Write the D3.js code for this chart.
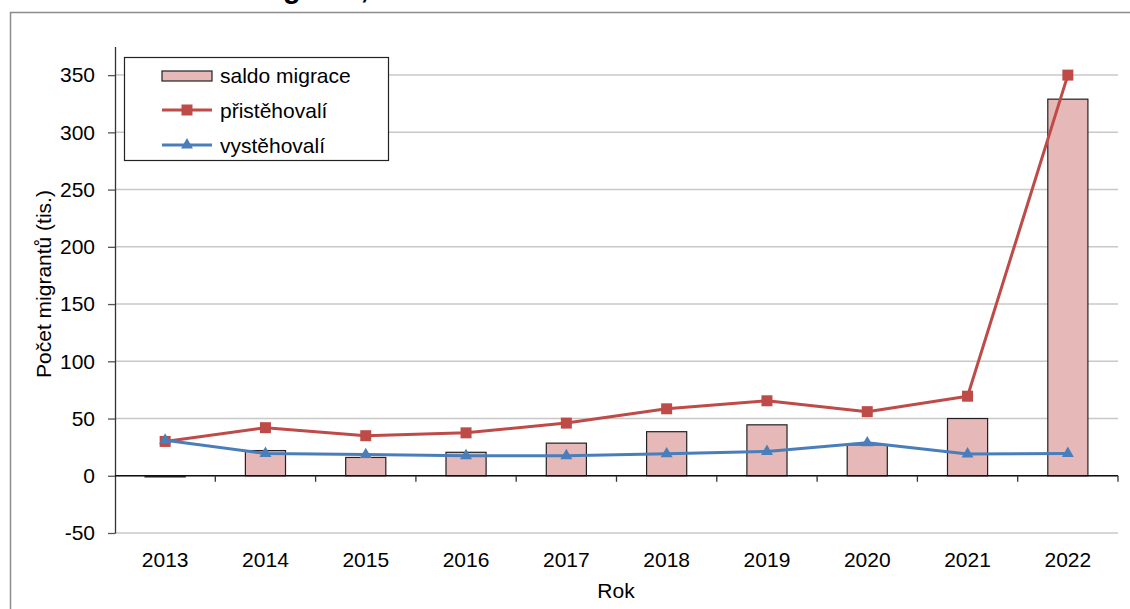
<!DOCTYPE html>
<html>
<head>
<meta charset="utf-8">
<script src="https://cdn.jsdelivr.net/npm/d3@7"></script>
<style>
  html, body { margin: 0; padding: 0; background: #fff; }
  svg { display: block; font-family: "Liberation Sans", Arial, sans-serif; }
</style>
</head>
<body>
<div id="chart"></div>
<script>
// data (tis.)
var years = ['2013', '2014', '2015', '2016', '2017', '2018', '2019', '2020', '2021', '2022'];
var saldo = [-1, 22, 16, 20.5, 28.5, 38.5, 44.5, 27, 50, 329];
var pristehovali = [30, 42, 35, 37.5, 46, 58.5, 65.5, 56, 69.5, 350];
var vystehovali = [31, 19.5, 18.5, 17.5, 17.5, 19.2, 21.2, 28.8, 19, 19.5];
var yTicks = [-50, 0, 50, 100, 150, 200, 250, 300, 350];

var width = 1130, height = 609;
var red = '#BE4B48', blue = '#4A7EBB', barFill = '#E6B9B8';

var svg = d3.select('#chart').append('svg')
    .attr('width', width)
    .attr('height', height);

// outer frame, cut off at right and bottom
svg.append('rect')
    .attr('x', 10.5).attr('y', 12.5)
    .attr('width', 1200).attr('height', 700)
    .attr('fill', 'none')
    .attr('stroke', '#8c8c8c')
    .attr('stroke-width', 1.5);

// title, mostly above the page (as in the original)
var title = svg.append('text')
    .attr('y', -2.5)
    .attr('font-size', 29)
    .attr('font-weight', 'bold')
    .text('Zahraniční migrace, 2013–2022');
var gPos = title.node().getStartPositionOfChar(title.text().indexOf('g')).x;
title.attr('x', 283 - gPos);

var x = d3.scaleBand().domain(years).range([115, 1118]);
var y = d3.scaleLinear().domain([-50, 375]).range([533, 46.5]);

// gridlines
svg.append('g').selectAll('line')
    .data(yTicks)
    .enter().append('line')
    .attr('x1', 115).attr('x2', 1118)
    .attr('y1', function(d) { return y(d); })
    .attr('y2', function(d) { return y(d); })
    .attr('stroke', '#c8c8c8')
    .attr('stroke-width', 1.5);

// bars
var bw = x.bandwidth() * 0.4;
svg.append('g').selectAll('rect')
    .data(saldo)
    .enter().append('rect')
    .attr('x', function(d, i) { return x(years[i]) + (x.bandwidth() - bw) / 2; })
    .attr('y', function(d) { return y(Math.max(0, d)); })
    .attr('width', bw)
    .attr('height', function(d) { return Math.abs(y(d) - y(0)); })
    .attr('fill', barFill)
    .attr('stroke', '#222')
    .attr('stroke-width', 1.2);

// y axis
var yAxis = svg.append('g')
    .attr('transform', 'translate(115,0)')
    .call(d3.axisLeft(y).tickValues(yTicks).tickFormat(function(d) { return String(d); })
        .tickSizeInner(7).tickSizeOuter(0).tickPadding(13));
yAxis.select('.domain').attr('stroke', '#333').attr('stroke-width', 1.3);
yAxis.selectAll('.tick line').attr('stroke', '#555').attr('stroke-width', 1.3);
yAxis.selectAll('text').attr('font-size', 21).attr('font-family', '"Liberation Sans", Arial, sans-serif').attr('fill', '#000');

// x axis line at zero with ticks on category boundaries
var bounds = years.map(function(d) { return x(d) + x.bandwidth(); });
var xAxis = svg.append('g');
xAxis.append('line')
    .attr('x1', 115).attr('x2', 1118)
    .attr('y1', y(0)).attr('y2', y(0))
    .attr('stroke', '#111').attr('stroke-width', 1.3);
xAxis.selectAll('.xt')
    .data(bounds)
    .enter().append('line')
    .attr('class', 'xt')
    .attr('x1', function(d) { return d; }).attr('x2', function(d) { return d; })
    .attr('y1', y(0)).attr('y2', y(0) + 6)
    .attr('stroke', '#333').attr('stroke-width', 1.3);

// category labels under the plot
var xLab = svg.append('g')
    .attr('transform', 'translate(0,533)')
    .call(d3.axisBottom(x).tickSize(0).tickPadding(19));
xLab.select('.domain').remove();
xLab.selectAll('text').attr('font-size', 21).attr('font-family', '"Liberation Sans", Arial, sans-serif').attr('fill', '#000');

// lines
var line = d3.line()
    .x(function(d, i) { return x(years[i]) + x.bandwidth() / 2; })
    .y(function(d) { return y(d); });

var square = d3.symbol().type(d3.symbolSquare).size(121);
var triangle = d3.symbol().type(d3.symbolTriangle).size(62);

function drawSeries(values, colour, sym) {
    svg.append('path')
        .datum(values)
        .attr('d', line)
        .attr('fill', 'none')
        .attr('stroke', colour)
        .attr('stroke-width', 3)
        .attr('stroke-linejoin', 'round');
    svg.append('g').selectAll('path')
        .data(values)
        .enter().append('path')
        .attr('d', sym)
        .attr('transform', function(d, i) {
            return 'translate(' + (x(years[i]) + x.bandwidth() / 2) + ',' + y(d) + ')';
        })
        .attr('fill', colour);
}
drawSeries(pristehovali, red, square);
drawSeries(vystehovali, blue, triangle);

// axis titles
svg.append('text')
    .attr('transform', 'translate(51,284) rotate(-90)')
    .attr('text-anchor', 'middle')
    .attr('font-size', 21)
    .text('Počet migrantů (tis.)');

svg.append('text')
    .attr('x', 616).attr('y', 598)
    .attr('text-anchor', 'middle')
    .attr('font-size', 21)
    .text('Rok');

// legend
var legend = svg.append('g');
legend.append('rect')
    .attr('x', 124.5).attr('y', 57.5)
    .attr('width', 264).attr('height', 103)
    .attr('fill', '#fff')
    .attr('stroke', '#222')
    .attr('stroke-width', 1.2);

var legItems = ['saldo migrace', 'přistěhovalí', 'vystěhovalí'];
var legY = [75, 110, 145];

legend.append('rect')
    .attr('x', 162).attr('y', 71)
    .attr('width', 50).attr('height', 10)
    .attr('fill', barFill)
    .attr('stroke', '#222')
    .attr('stroke-width', 1.2);

[[red, square], [blue, triangle]].forEach(function(s, k) {
    legend.append('line')
        .attr('x1', 162).attr('x2', 212)
        .attr('y1', legY[k + 1]).attr('y2', legY[k + 1])
        .attr('stroke', s[0]).attr('stroke-width', 3);
    legend.append('path')
        .attr('d', s[1])
        .attr('transform', 'translate(187,' + legY[k + 1] + ')')
        .attr('fill', s[0]);
});

legend.selectAll('.lt')
    .data(legItems)
    .enter().append('text')
    .attr('class', 'lt')
    .attr('x', 220)
    .attr('y', function(d, i) { return legY[i] + 7.5; })
    .attr('font-size', 21)
    .text(function(d) { return d; });
</script>
</body>
</html>
